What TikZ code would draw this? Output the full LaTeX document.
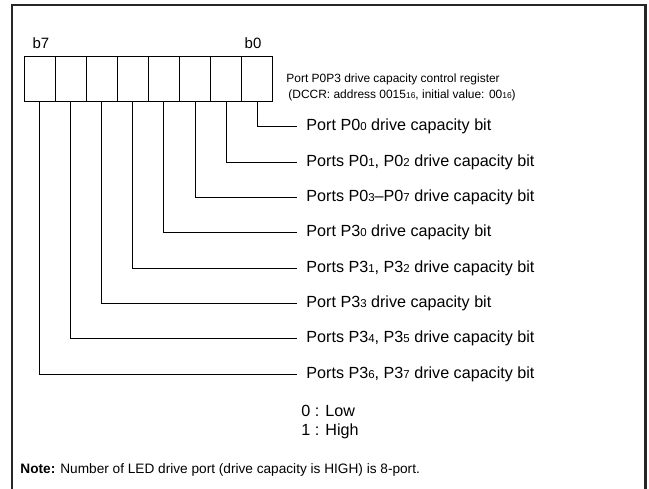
\documentclass[tikz,border=0pt]{standalone}
\usepackage{fontspec}
\setmainfont{Liberation Sans}
\usetikzlibrary{positioning}

\newcommand{\lo}[1]{{\fontsize{11.5}{11.5}\selectfont #1}}
\newcommand{\hlo}[1]{{\fontsize{8.5}{8.5}\selectfont #1}}

\begin{document}
\begin{tikzpicture}[x=1bp,y=-1bp,line width=0.9bp,
    bitbox/.style={draw,minimum width=31.1bp,minimum height=45bp,inner sep=0pt},
    bitname/.style={font=\fontsize{16.2}{18}\selectfont,anchor=west,inner sep=0pt,
      inner xsep=9bp,text height=11bp,text depth=3bp},
    smalltext/.style={font=\fontsize{12}{15}\selectfont,anchor=west,inner sep=0pt}]
  \useasboundingbox (0,0) rectangle (649,489);
  \draw[line width=2.2bp,black!85] (12,489) -- (12,5) -- (645.4,5) -- (645.4,489);
  % register
  \draw
    (39.5,79.2) node[bitbox] (x7){}
    (70.6,79.2) node[bitbox] (x6){}
    (101.7,79.2) node[bitbox] (x5){}
    (132.8,79.2) node[bitbox] (x4){}
    (163.9,79.2) node[bitbox] (x3){}
    (195.0,79.2) node[bitbox] (x2){}
    (226.0,79.2) node[bitbox] (x1){}
    (257.1,79.2) node[bitbox] (x0){};
  \node[font=\fontsize{15}{18}\selectfont] (t7) at (41,43) {b7};
  \node[font=\fontsize{15}{18}\selectfont] (t0) at (253,43) {b0};
  \node[smalltext] (reg) at (286,79) {Port P0P3 drive capacity control register};
  \node[smalltext] (dccr) at (288,95) {(DCCR: address 0015\hlo{16}, initial value: 00\hlo{16})};
  % bit meanings
  \draw
    (297,127) node[bitname] (r0){Port P0\lo{0} drive capacity bit}
    (297,162.3) node[bitname] (r1){Ports P0\lo{1}, P0\lo{2} drive capacity bit}
    (297,197.6) node[bitname] (r2){Ports P0\lo{3}--P0\lo{7} drive capacity bit}
    (297,232.9) node[bitname] (r3){Port P3\lo{0} drive capacity bit}
    (297,268.1) node[bitname] (r4){Ports P3\lo{1}, P3\lo{2} drive capacity bit}
    (297,303.4) node[bitname] (r5){Port P3\lo{3} drive capacity bit}
    (297,338.7) node[bitname] (r6){Ports P3\lo{4}, P3\lo{5} drive capacity bit}
    (297,374) node[bitname] (r7){Ports P3\lo{6}, P3\lo{7} drive capacity bit};
  \begin{scope}[line width=1bp]
    \draw (x0.south) |- (r0.west);
    \draw (x1.south) |- (r1.west);
    \draw (x2.south) |- (r2.west);
    \draw (x3.south) |- (r3.west);
    \draw (x4.south) |- (r4.west);
    \draw (x5.south) |- (r5.west);
    \draw (x6.south) |- (r6.west);
    \draw (x7.south) |- (r7.west);
  \end{scope}
  \node[bitname,inner xsep=0pt] (low) at (301,412) {0 : Low};
  \node[bitname,inner xsep=0pt] (high) at (301,431) {1 : High};
  \node[smalltext,font=\fontsize{13.7}{16}\selectfont] (note) at (20,470)
    {\textbf{Note:} Number of LED drive port (drive capacity is HIGH) is 8-port.};
\end{tikzpicture}
\end{document}
